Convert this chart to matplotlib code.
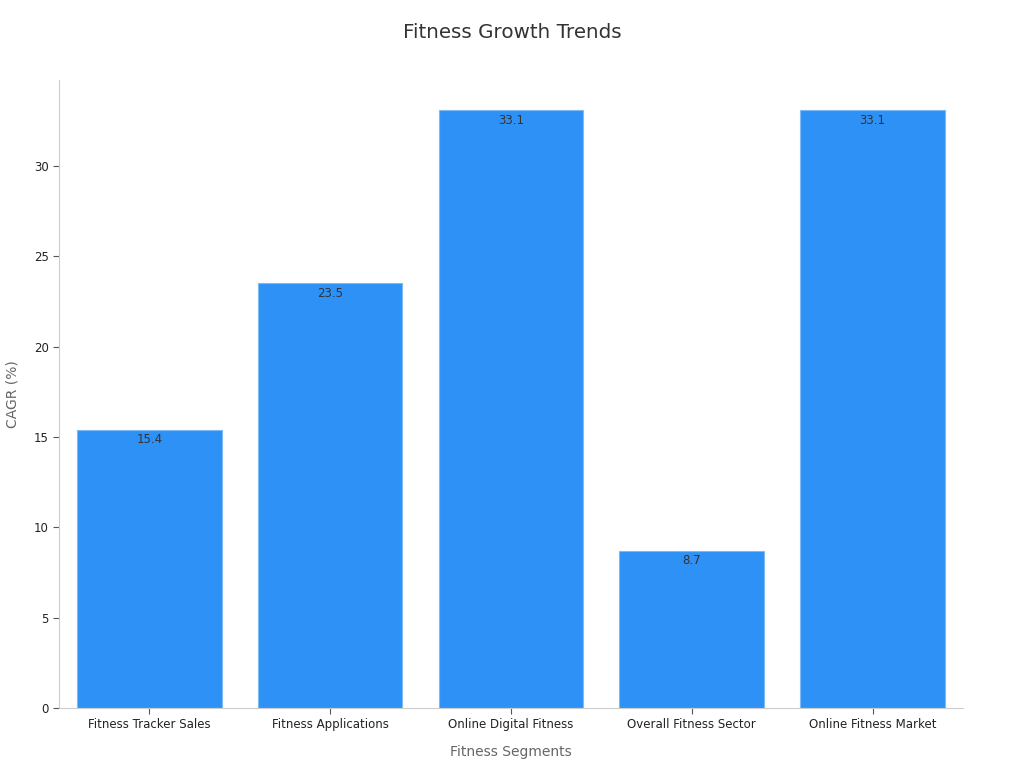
import matplotlib.pyplot as plt

categories = ['Fitness Tracker Sales', 'Fitness Applications', 'Online Digital Fitness',
              'Overall Fitness Sector', 'Online Fitness Market']
cagr = [15.4, 23.5, 33.1, 8.7, 33.1]

fig = plt.figure(figsize=(10.24, 7.68), dpi=100)
ax = fig.add_axes([0.0576, 0.0781, 0.8828, 0.8177])

bars = ax.bar(range(len(categories)), cagr, width=0.8, color='#2E91F5',
              edgecolor='#7DB9F5', linewidth=0.8)
for b, v in zip(bars, cagr):
    ax.text(b.get_x() + b.get_width() / 2, v - 0.2, str(v), ha='center', va='top',
            fontsize=8.5, color='#333333')

ax.set_xlim(-0.5, len(categories) - 0.5)
ax.set_ylim(0, max(cagr) * 1.05)
ax.set_xticks(range(len(categories)))
ax.set_xticklabels(categories, fontsize=8.5, color='#222222')
ax.set_yticks([0, 5, 10, 15, 20, 25, 30])
ax.tick_params(axis='y', labelsize=8.5, colors='#222222', length=4, color='#555555')
ax.tick_params(axis='x', length=4, color='#555555')

for s in ['top', 'right']:
    ax.spines[s].set_visible(False)
for s in ['left', 'bottom']:
    ax.spines[s].set_color('#CCCCCC')

ax.set_xlabel('Fitness Segments', fontsize=10, color='#666666', labelpad=10)
ax.set_ylabel('CAGR (%)', fontsize=10, color='#666666', labelpad=10)
fig.suptitle('Fitness Growth Trends', fontsize=14.3, color='#333333', y=0.97)

plt.savefig('out.png', dpi=100)
